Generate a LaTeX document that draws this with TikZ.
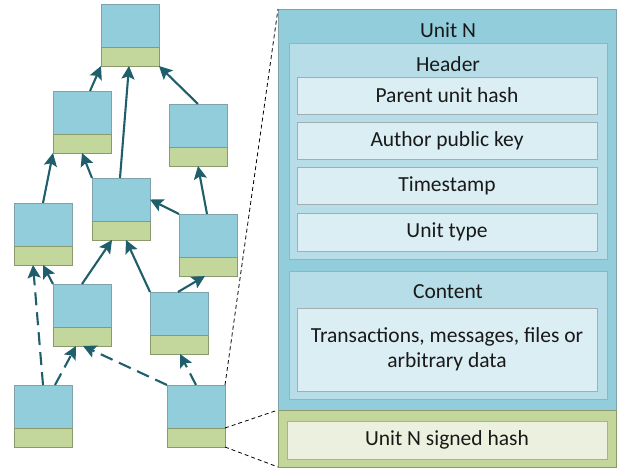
\documentclass[tikz,border=0pt]{standalone}
\usepackage{fontspec}
\setmainfont{Carlito}
\usetikzlibrary{arrows.meta}
\definecolor{ublue}{HTML}{92CDDC}
\definecolor{ugreen}{HTML}{C3D69B}
\definecolor{hblue}{HTML}{B7DEE8}
\definecolor{fblue}{HTML}{DAEEF3}
\definecolor{fgreen}{HTML}{EBF1DE}
\definecolor{bordb}{HTML}{7FA3AC}
\definecolor{bordg}{HTML}{8A9A6C}
\definecolor{bordf}{HTML}{A3AEB0}
\definecolor{arr}{HTML}{1F5E6B}
\tikzset{
  utop/.style={draw=bordb, fill=ublue, line width=0.9pt, minimum width=58pt, minimum height=43pt, inner sep=0pt, outer sep=0pt, anchor=north west},
  ubot/.style={draw=bordg, fill=ugreen, line width=0.9pt, minimum width=58pt, minimum height=19pt, inner sep=0pt, outer sep=0pt, anchor=north west},
  parentarrow/.style={draw=arr, line width=2.1pt, -{Stealth[length=13pt,width=13pt,inset=2.5pt]}},
  dasharrow/.style={parentarrow, dash pattern=on 13pt off 7pt},
  zoomline/.style={draw=black, line width=0.8pt, dash pattern=on 4pt off 3pt},
  panel/.style={line width=0.9pt, inner sep=0pt, outer sep=0pt, anchor=north west},
  field/.style={panel, draw=bordf, fill=fblue, minimum width=300pt, align=center},
  txt/.style={font=\fontsize{21.5}{25}\selectfont, text=black!90}
}
\begin{document}
\begin{tikzpicture}[x=1pt,y=-1pt]
\useasboundingbox (0,0) rectangle (621,470);
% DAG units
\foreach \n/\x/\y in {A/101/4, B/53/91, C/169/104, D/14/203, E/92/178, F/179/214, G/53/284, H/150/292, I/14/385, J/167/385}{
  \node[utop] (\n) at (\x,\y) {};
  \node[ubot] (\n g) at (\n.south west) {};
}
% solid parent arrows
\draw[parentarrow] ([xshift=37pt]B.north west) -- (Ag.south west);
\draw[parentarrow] ([xshift=28pt]E.north west) -- ([xshift=28pt]Ag.south west);
\draw[parentarrow] ([xshift=29pt]C.north west) -- (Ag.south east);
\draw[parentarrow] ([xshift=29pt]D.north west) -- (Bg.south west);
\draw[parentarrow] (E.north west) -- ([xshift=29pt]Bg.south west);
\draw[parentarrow] (F.north west) -- (E.east);
\draw[parentarrow] ([xshift=28pt]F.north west) -- ([xshift=29pt]Cg.south west);
\draw[parentarrow] ([xshift=29pt]G.north west) -- ([xshift=20pt]Eg.south west);
\draw[parentarrow] (H.north west) -- ([xshift=34pt]Eg.south west);
\draw[parentarrow] ([xshift=28pt]H.north west) -- ([xshift=26pt]Fg.south west);
\draw[parentarrow] (G.north west) -- ([xshift=29pt]Dg.south west);
% dashed arrows
\draw[dasharrow] ([xshift=29pt]I.north west) -- ([xshift=19pt]Dg.south west);
\draw[dasharrow] ([xshift=41pt]I.north west) -- ([xshift=23pt]Gg.south west);
\draw[dasharrow] (J.north west) -- ([xshift=30pt]Gg.south west);
\draw[dasharrow] ([xshift=29pt]J.north west) -- ([xshift=30pt]Hg.south west);
% Unit N detail
\node[panel, draw=bordb, fill=ublue, minimum width=338pt, minimum height=401pt] (unit) at (278,9) {};
\node[panel, draw=bordg, fill=ugreen, minimum width=338pt, minimum height=57pt] (sig) at (unit.south west) {};
\node[txt] (unitlbl) at (448,30) {Unit N};
\node[panel, draw=bordf, fill=hblue, minimum width=318pt, minimum height=216pt] (header) at (289,43) {};
\node[txt] (headerlbl) at (448,64) {Header};
\node[field, minimum height=37pt] (f1) at (297,77) {};
\node[txt] at (f1.center) {Parent unit hash};
\node[field, minimum height=37pt] (f2) at (297,122) {};
\node[txt] at (f2.center) {Author public key};
\node[field, minimum height=37pt] (f3) at (297,167) {};
\node[txt] at (f3.center) {Timestamp};
\node[field, minimum height=38pt] (f4) at (297,213) {};
\node[txt] at (f4.center) {Unit type};
\node[panel, draw=bordf, fill=hblue, minimum width=318pt, minimum height=128pt] (content) at (289,271) {};
\node[txt] (contentlbl) at (448,292) {Content};
\node[field, minimum height=83pt] (data) at (297,308) {};
\node[txt, align=center] at (data.center) {Transactions, messages, files or\\arbitrary data};
\node[panel, draw=bordf, fill=fgreen, minimum width=320pt, minimum height=38pt] (shash) at (287,421) {};
\node[txt] at (shash.center) {Unit N signed hash};
% zoom lines
\draw[zoomline] (J.north east) -- (unit.north west);
\draw[zoomline] (Jg.north east) -- (sig.north west);
\draw[zoomline] (Jg.south east) -- (sig.south west);
\end{tikzpicture}
\end{document}
